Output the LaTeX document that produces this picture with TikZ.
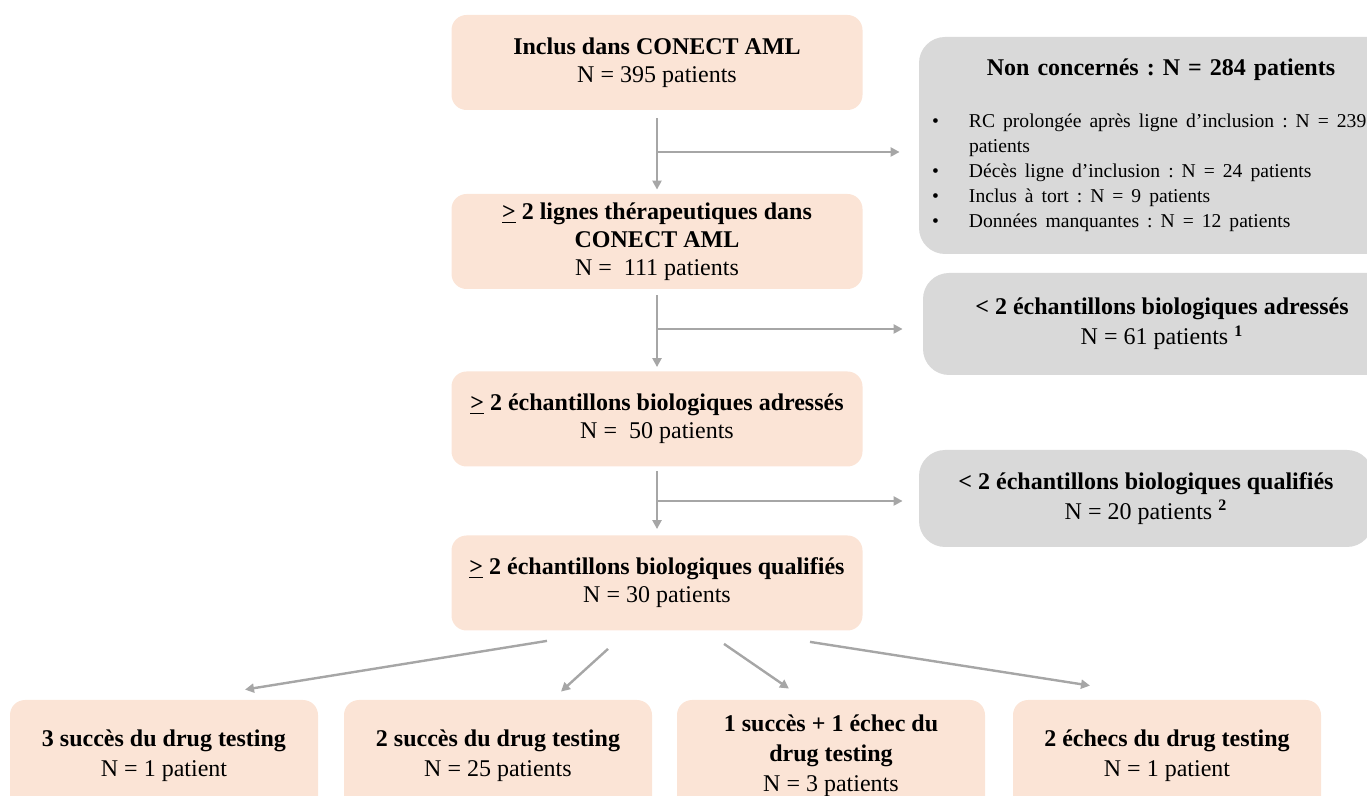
\documentclass[tikz,border=0pt]{standalone}
\usepackage{fontspec}
\setmainfont{Liberation Serif}
\usetikzlibrary{arrows.meta}

\definecolor{peach}{RGB}{251,228,214}
\definecolor{lightgrey}{RGB}{217,217,217}
\definecolor{linegrey}{RGB}{166,166,166}

% bullet line with hanging indent
\newcommand{\puce}[1]{\par\hangindent=18.5pt\hangafter=1\noindent\makebox[18.5pt][l]{\textbullet}#1}

\frenchspacing

\begin{document}
\begin{tikzpicture}[x=0.5pt, y=-0.5pt,
    stage/.style={fill=peach, rounded corners=7.5pt, minimum width=205.5pt, minimum height=47.5pt,
        align=center, inner sep=0pt, font=\fontsize{12}{14}\selectfont},
    excl/.style={fill=lightgrey, rounded corners=13pt, align=center, inner sep=0pt,
        font=\fontsize{12}{15}\selectfont},
    result/.style={fill=peach, rounded corners=7.5pt, minimum width=154pt, minimum height=56pt,
        align=center, inner sep=0pt, font=\fontsize{12}{15}\selectfont},
    flow/.style={draw=linegrey, line width=1.2pt, -{Triangle[length=4.5pt, width=4.5pt]}}]

    \clip (0,0) rectangle (1367,796);

    % Main stages
    \node[stage] (inc) at (657,62.5) {\textbf{Inclus dans CONECT AML}\\N = 395 patients};
    \node[stage] (lig) at (657,241.5) {\textbf{\underline{>} 2 lignes thérapeutiques dans}\\\textbf{CONECT AML}\\N =\ \ 111 patients};
    \node[stage] (adr) at (657,419) {\textbf{\underline{>} 2 échantillons biologiques adressés}\\N =\ \ 50 patients};
    \node[stage] (qual) at (657,583) {\textbf{\underline{>} 2 échantillons biologiques qualifiés}\\N = 30 patients};

    % Excluded patients
    \node[excl, minimum width=242pt, minimum height=108.5pt, text width=229pt, inner xsep=6.5pt, align=left] (nc) at (1161,145.5)
        {{\centering\textbf{Non concernés : N = 284 patients}\par}\vspace{13.5pt}%
        \raggedright\fontsize{9.8}{12.5}\selectfont
        \puce{RC prolongée après ligne d’inclusion : N = 239\newline patients}
        \puce{Décès ligne d’inclusion : N = 24 patients}
        \puce{Inclus à tort : N = 9 patients}
        \puce{Données manquantes : N = 12 patients}\par};
    \node[excl, minimum width=239pt, minimum height=51pt] (nadr) at (1162,324)
        {\textbf{< 2 échantillons biologiques adressés}\\N = 61 patients \textsuperscript{\textbf{1}}};
    \node[excl, minimum width=227pt, minimum height=48.5pt] (nqual) at (1146,498.5)
        {\textbf{< 2 échantillons biologiques qualifiés}\\N = 20 patients \textsuperscript{\textbf{2}}};

    % Drug testing results
    \foreach \name/\x/\txt in {s3/164/{\textbf{3 succès du drug testing}\\N = 1 patient},
        s2/498/{\textbf{2 succès du drug testing}\\N = 25 patients},
        s1/831/{\textbf{1 succès + 1 échec du}\\\textbf{drug testing}\\N = 3 patients},
        e2/1167/{\textbf{2 échecs du drug testing}\\N = 1 patient}} {
        \node[result] (\name) at (\x,756) {\txt};
    }

    % Arrows between stages
    \draw[flow, shorten <=4pt, shorten >=2pt] (inc) -- (lig);
    \draw[flow, shorten <=3pt, shorten >=2pt] (lig) -- (adr);
    \draw[flow, shorten <=2pt, shorten >=3pt] (adr) -- (qual);

    % Branches to excluded patients
    \coordinate (b1) at (657,152);
    \coordinate (b2) at (657,329);
    \coordinate (b3) at (657,501);
    \draw[flow, shorten >=9.5pt] (b1) -- (b1 -| nc.west);
    \draw[flow, shorten >=10pt] (b2) -- (b2 -| nadr.west);
    \draw[flow, shorten >=8pt] (b3) -- (b3 -| nqual.west);

    % Split into results
    \draw[flow] ([xshift=-55pt, yshift=-5pt]qual.south) -- ([xshift=40.5pt, yshift=5pt]s3.north);
    \draw[flow] ([xshift=-24.5pt, yshift=-9pt]qual.south) -- ([xshift=31.5pt, yshift=4pt]s2.north);
    \draw[flow] ([xshift=33.5pt, yshift=-6.5pt]qual.south) -- ([xshift=-21pt, yshift=5.5pt]s1.north);
    \draw[flow] ([xshift=76.5pt, yshift=-5.5pt]qual.south) -- ([xshift=-38.5pt, yshift=7pt]e2.north);
\end{tikzpicture}
\end{document}
